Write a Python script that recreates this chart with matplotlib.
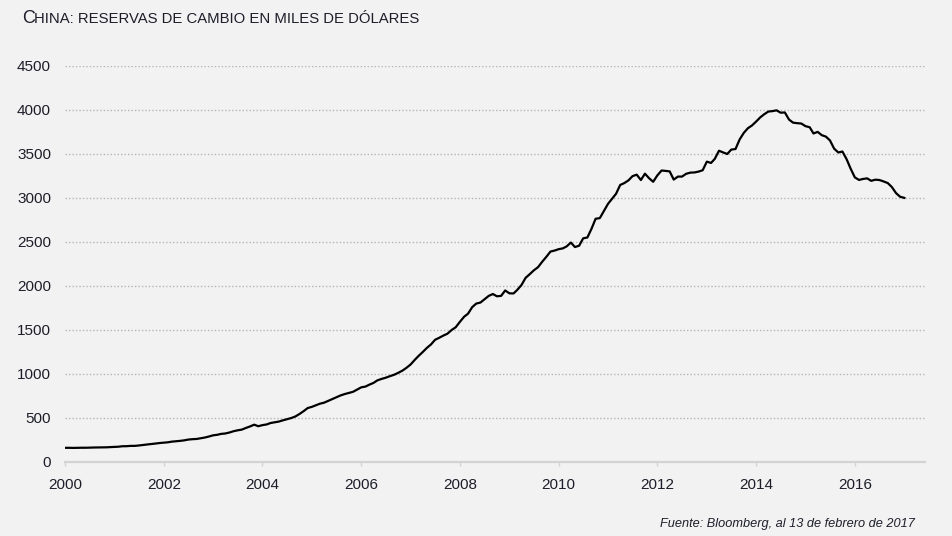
import pandas as pd
import matplotlib
matplotlib.use("Agg")
import matplotlib.pyplot as plt
import matplotlib.dates as mdates

# monthly fx reserves (bn usd), jan 2000 -> jan 2017
reserves = [
    157.8, 158.0, 156.8, 158.0, 158.7, 158.6, 160.2, 161.3, 161.8, 162.6, 163.6, 165.6,        # 2000
    168.3, 170.7, 175.8, 176.4, 179.9, 180.1, 184.5, 190.7, 195.9, 200.6, 206.6, 212.2,        # 2001
    216.5, 220.8, 228.0, 232.4, 236.7, 242.8, 251.5, 256.0, 258.6, 266.0, 274.7, 286.4,        # 2002
    299.9, 306.0, 316.2, 320.6, 331.6, 346.5, 356.5, 364.7, 383.9, 400.6, 421.0, 403.3,        # 2003
    415.7, 423.5, 439.8, 448.6, 456.0, 470.6, 483.0, 496.1, 514.5, 542.3, 575.0, 609.9,        # 2004
    623.6, 642.6, 659.1, 670.8, 691.0, 711.0, 732.7, 753.2, 769.0, 781.9, 794.2, 818.9,        # 2005
    845.2, 853.7, 875.1, 895.0, 925.0, 941.1, 954.5, 972.0, 987.9, 1009.6, 1034.4, 1066.3,     # 2006
    1104.7, 1157.4, 1202.0, 1246.6, 1292.7, 1332.6, 1385.2, 1408.6, 1433.6, 1454.9, 1497.0, 1528.2,  # 2007
    1589.8, 1647.1, 1682.2, 1756.7, 1797.0, 1808.8, 1845.2, 1884.2, 1905.6, 1879.7, 1884.7, 1946.0,  # 2008
    1913.5, 1912.1, 1953.7, 2008.9, 2089.5, 2131.6, 2174.7, 2210.8, 2272.6, 2327.3, 2388.2, 2399.2,  # 2009
    2415.2, 2424.6, 2447.1, 2490.5, 2439.5, 2454.3, 2538.4, 2547.8, 2648.3, 2760.9, 2767.8, 2847.3,  # 2010
    2931.0, 2990.0, 3044.0, 3145.0, 3166.0, 3197.0, 3245.0, 3262.0, 3201.0, 3273.0, 3221.0, 3181.0,  # 2011
    3254.0, 3309.0, 3305.0, 3299.0, 3206.0, 3240.0, 3240.0, 3272.0, 3285.0, 3287.0, 3297.0, 3312.0,  # 2012
    3410.0, 3395.0, 3442.0, 3534.0, 3515.0, 3497.0, 3547.0, 3553.0, 3663.0, 3736.0, 3790.0, 3821.0,  # 2013
    3866.0, 3914.0, 3948.0, 3979.0, 3984.0, 3993.0, 3966.0, 3969.0, 3888.0, 3853.0, 3847.0, 3843.0,  # 2014
    3813.0, 3801.0, 3730.0, 3748.0, 3711.0, 3694.0, 3651.0, 3557.0, 3514.0, 3525.0, 3438.0, 3330.0,  # 2015
    3231.0, 3202.0, 3213.0, 3220.0, 3192.0, 3205.0, 3201.0, 3185.0, 3166.0, 3121.0, 3052.0, 3011.0,  # 2016
    2998.0,                                                                                          # 2017
]
dates = pd.date_range("2000-01-01", periods=len(reserves), freq="MS")

year_ticks = list(range(2000, 2017, 2))
y_ticks = [0, 500, 1000, 1500, 2000, 2500, 3000, 3500, 4000, 4500]

bg = "#f2f2f2"
txt = "#1e1e2a"
plt.rcParams["font.family"] = ["Liberation Sans", "DejaVu Sans"]

fig = plt.figure(figsize=(9.53, 5.36), dpi=100, facecolor=bg)
ax = fig.add_axes([0.0682, 0.1386, 0.9024, 0.7388], facecolor=bg)

ax.plot(dates, reserves, color="black", lw=1.6, solid_joinstyle="round")

ax.set_ylim(0, 4500)
ax.set_yticks(y_ticks)
ax.set_xlim(pd.Timestamp("2000-01-01"), pd.Timestamp("2017-06-03"))
ax.set_xticks([pd.Timestamp(f"{y}-01-01") for y in year_ticks])
ax.xaxis.set_major_formatter(mdates.DateFormatter("%Y"))

ax.grid(axis="y", color="#b5b5b5", linestyle=(0, (1, 1.5)), lw=1)
ax.set_axisbelow(True)
for s in ["left", "right", "top"]:
    ax.spines[s].set_visible(False)
ax.spines["bottom"].set_color("#d3d3d3")
ax.spines["bottom"].set_linewidth(1.6)

ax.tick_params(axis="x", colors="#d3d3d3", labelcolor=txt, length=3, width=1, pad=9, labelsize=11)
ax.tick_params(axis="y", length=0, pad=10, labelcolor=txt, labelsize=11)

# title with small caps look
fig.text(22 / 953, 1 - 23 / 536, "C", fontsize=13, color=txt, va="baseline")
fig.text(34 / 953, 1 - 23 / 536, "HINA: RESERVAS DE CAMBIO EN MILES DE DÓLARES",
         fontsize=10.7, color=txt, va="baseline")

fig.text(915 / 953, 1 - 527 / 536, "Fuente: Bloomberg, al 13 de febrero de 2017",
         fontsize=9.2, style="italic", color=txt, ha="right", va="baseline")

fig.savefig("out.png", dpi=100, facecolor=bg)
